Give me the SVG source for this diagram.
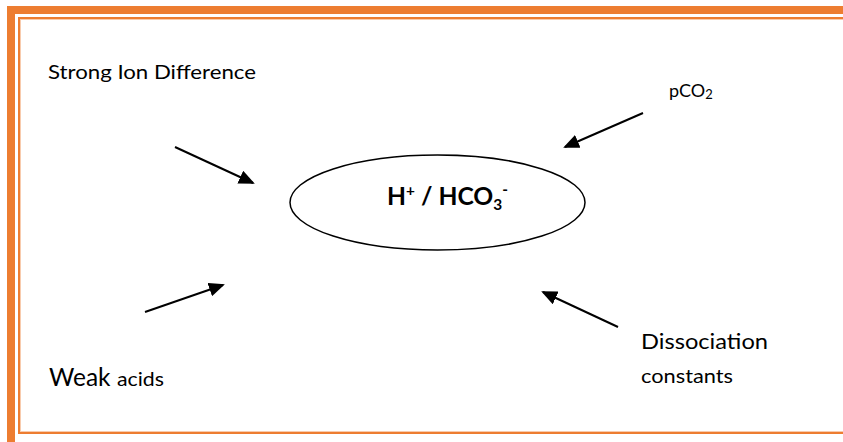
<svg xmlns="http://www.w3.org/2000/svg" width="843" height="442" viewBox="0 0 843 442">
<style>
.lbl{font-family:Lato,"Open Sans","Liberation Sans",sans-serif;fill:#000}
.edge{stroke:#000;stroke-width:2;fill:none;marker-end:url(#ah)}
</style>
<defs>
<marker id="ah" markerWidth="16" markerHeight="14" refX="14" refY="7" orient="auto" markerUnits="userSpaceOnUse">
<path d="M0,0 L16,7 L0,14 Z" fill="#000"/>
</marker>
</defs>
<rect width="843" height="442" fill="#fff"/>
<g id="border">
<rect x="11" y="10" width="850" height="440" fill="none" stroke="#ED7D31" stroke-width="8"/>
<rect x="19" y="18" width="840" height="415" fill="none" stroke="#ED7D31" stroke-width="2"/>
<rect x="20.5" y="19.5" width="840" height="412" fill="none" stroke="#F8CBAD" stroke-width="1"/>
</g>
<g id="center">
<ellipse cx="437.5" cy="202.5" rx="147.5" ry="47.5" fill="#fff" stroke="#000" stroke-width="1.5"/>
<text class="lbl" x="387" y="205" font-size="24" font-weight="bold" textLength="121" lengthAdjust="spacingAndGlyphs">H<tspan font-size="15" dy="-9">+</tspan><tspan dy="9"> / HCO</tspan><tspan font-size="15" dy="5">3</tspan><tspan font-size="15" dy="-15">-</tspan></text>
</g>
<g id="sid"><text class="lbl" x="48" y="79" font-size="18.5" textLength="208" lengthAdjust="spacingAndGlyphs">Strong Ion Difference</text></g>
<g id="pco2"><text class="lbl" x="669" y="97" font-size="18">pCO<tspan font-size="13" dy="2">2</tspan></text></g>
<g id="dissoc"><text class="lbl" x="641" y="349" font-size="21.5" textLength="127" lengthAdjust="spacingAndGlyphs">Dissociation</text>
<text class="lbl" x="641" y="383" font-size="20" textLength="92" lengthAdjust="spacingAndGlyphs">constants</text></g>
<g id="weak"><text class="lbl" x="49" y="386" font-size="24.5">Weak<tspan x="117" font-size="20" textLength="47" lengthAdjust="spacingAndGlyphs">acids</tspan></text></g>
<g id="connectors">
<line class="edge" x1="175" y1="147" x2="253" y2="183"/>
<line class="edge" x1="145" y1="312" x2="223" y2="285"/>
<line class="edge" x1="643" y1="113" x2="565" y2="147"/>
<line class="edge" x1="618" y1="327" x2="543" y2="292"/>
</g>
</svg>
